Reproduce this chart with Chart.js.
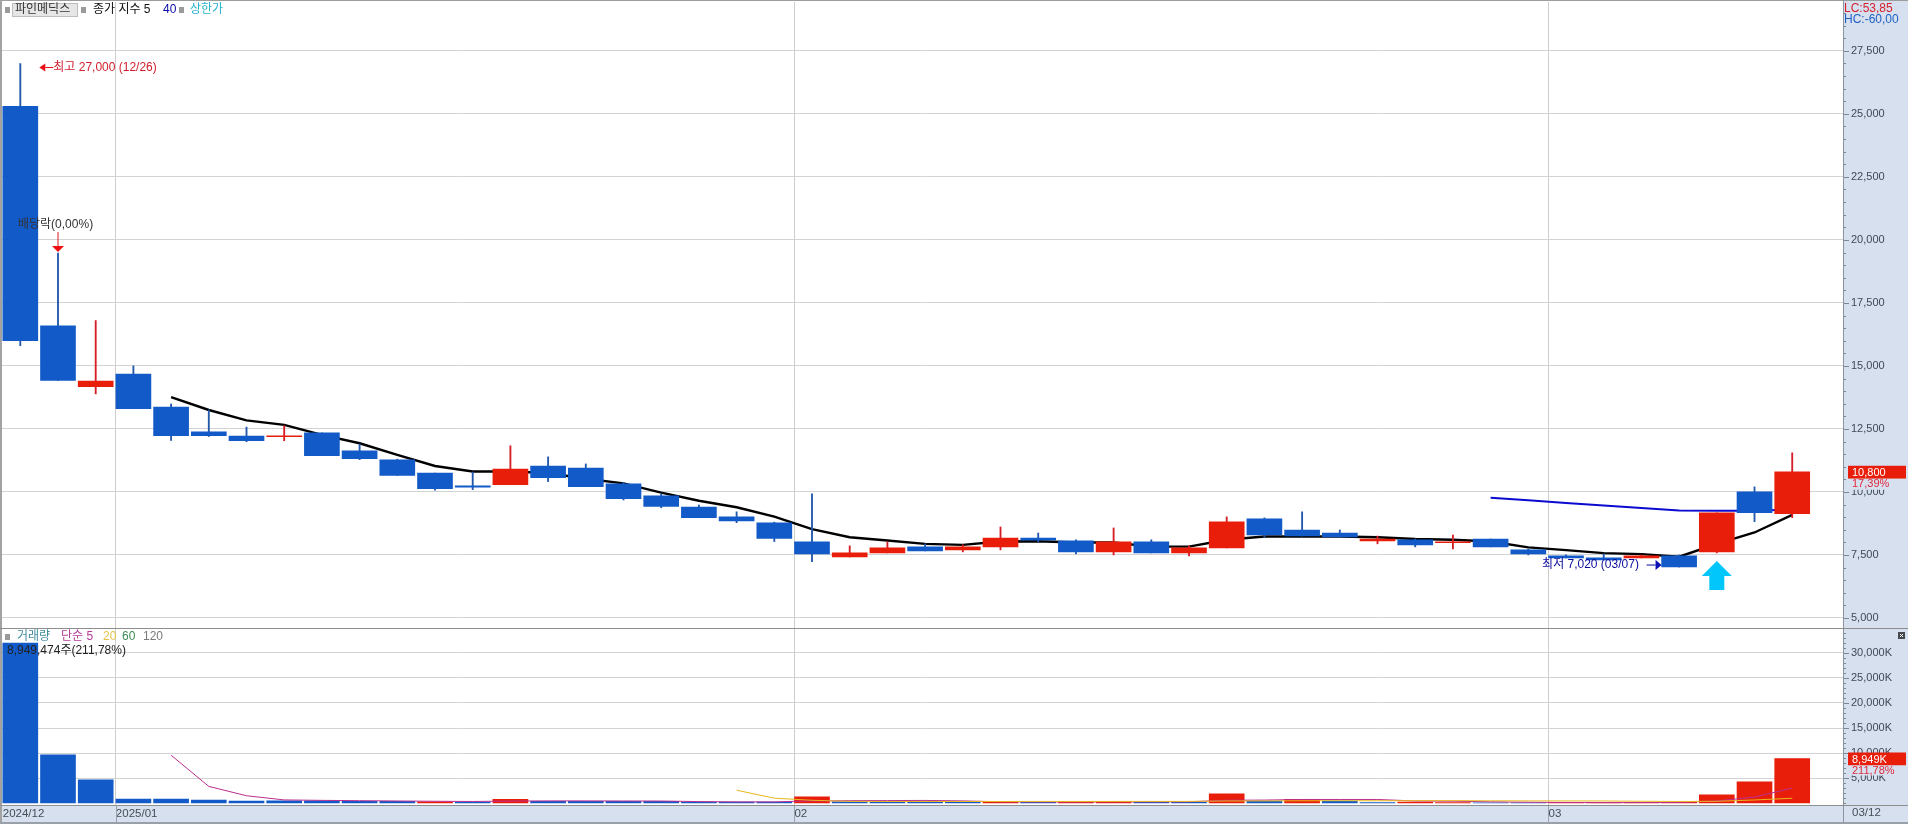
<!DOCTYPE html>
<html lang="ko">
<head>
<meta charset="utf-8">
<title>파인메딕스</title>
<style>html,body{margin:0;padding:0;background:#fff;overflow:hidden}canvas{display:block}</style>
<script src="https://cdn.jsdelivr.net/npm/chart.js@4/dist/chart.umd.min.js"></script>
</head>
<body>
<canvas id="c" width="1908" height="824"></canvas>
<script>
const opens  = [25300,16590,14180,14680,13370,12380,12220,12190,12340,11630,11270,10750,10240,10290,11030,10950,10320,9840,9400,9010,8770,8020,7420,7580,7820,7700,7820,8170,8060,7620,8020,7580,7780,8930,8490,8370,8060,8100,7990,8130,7700,7460,7380,7380,7460,7620,10000,9140];
const highs  = [27000,19480,16800,15000,13490,13250,12570,12630,12340,11900,11300,10750,10790,11830,11390,11110,10380,9920,9480,9210,8800,9920,7860,8020,7940,7900,8610,8370,8100,8570,8100,7860,9010,8970,9210,8490,8250,8130,8290,8130,7740,7500,7540,7500,7500,9170,10200,11550];
const lows   = [15800,14420,13890,13300,12040,12200,11990,12030,11440,11280,10650,10070,10090,10290,10410,10210,9680,9370,8980,8780,8030,7230,7420,7580,7660,7620,7700,8020,7540,7500,7580,7460,7780,8210,8250,8210,7940,7820,7740,7820,7500,7380,7300,7380,7020,7580,8820,8980];
const closes = [16000,14420,14400,13300,12230,12230,12030,12230,11440,11320,10650,10130,10190,10910,10570,10210,9730,9420,8980,8850,8150,7540,7580,7780,7660,7820,8170,8090,7620,8020,7580,7780,8810,8290,8250,8210,8130,7900,8020,7820,7540,7380,7300,7460,7020,9170,9180,10800];
const ma5    = [null,null,null,null,13760,13250,12840,12660,12260,11930,11470,11030,10810,10810,10750,10520,10340,9970,9650,9390,9020,8520,8200,8070,7940,7900,8030,8040,7990,7990,7830,7830,8100,8230,8230,8230,8200,8130,8100,8030,7800,7690,7570,7530,7430,7940,8390,9090];
const ma40   = [null,null,null,null,null,null,null,null,null,null,null,null,null,null,null,null,null,null,null,null,null,null,null,null,null,null,null,null,null,null,null,null,null,null,null,null,null,null,null,9770,9670,9560,9460,9360,9260,9250,9250,9300];
const volumes= [31900,9700,4700,900,900,700,500,550,550,450,450,350,300,840,450,450,450,450,300,300,300,1300,350,350,350,250,300,250,300,450,300,250,1900,500,850,500,200,300,200,150,150,200,200,200,250,1700,4300,8949];
const volUp  = [0,0,0,0,0,0,0,0,0,0,0,1,0,1,0,0,0,0,0,0,0,1,0,0,0,0,1,0,1,1,0,0,1,0,1,0,0,1,1,0,0,1,1,1,1,1,1,1];
const volMa5 = [null,null,null,null,9600,3400,1540,710,620,560,500,440,400,480,520,520,500,490,380,320,320,520,560,580,610,520,340,300,300,330,330,340,640,680,800,800,800,500,450,340,250,200,180,190,210,500,1280,3070];
const volMa20= [null,null,null,null,null,null,null,null,null,null,null,null,null,null,null,null,null,null,null,2640,1050,640,420,400,400,400,400,410,410,410,420,420,500,510,540,550,540,560,570,530,520,510,500,440,400,440,700,1040];
const monthStarts = [0,3,21,41];
const monthLabels = ['2024/12','2025/01','02','03'];
const lastDateLabel = '03/12';
const priceLegend = ['파인메딕스','종가 지수 5','40','상한가'];
const volumeLegend = ['거래량','단순 5','20','60','120'];
const annotationTexts = {high:'최고 27,000 (12/26)',low:'최저 7,020 (03/07)',ex:'배당락(0,00%)',vol:'8,949,474주(211,78%)',lc:'LC:53,85',hc:'HC:-60,00',lastP:'10,800',lastPct:'17,39%',lastV:'8,949K',lastVPct:'211,78%'};

const RED='#e81e0b',BLUE='#115ac8',RWICK='#d41f26',BWICK='#2258ac',BAND='#d6e0ee',FONT='"Liberation Sans","Noto Sans CJK KR",sans-serif';
const idx=opens.map((_,i)=>i);
const pts=a=>a.map((y,i)=>({x:i,y}));
const up=idx.map(i=>closes[i]>=opens[i]);
const halfSlot=0.465;

const chrome={
 id:'chrome',
 beforeDraw(ch){
  const c=ch.ctx,a=ch.chartArea;
  c.save();
  c.fillStyle='#fff';c.fillRect(0,0,ch.width,ch.height);
  c.fillStyle=BAND;
  c.fillRect(a.right,0,ch.width-a.right,ch.height);
  c.fillRect(0,a.bottom,ch.width,ch.height-a.bottom);
  c.restore();
 },
 afterDraw(ch){
  const c=ch.ctx,a=ch.chartArea,W=ch.width,H=ch.height;
  const x=ch.scales.x,y=ch.scales.y,v=ch.scales.yVol;
  const T=(s,px,py,col,size=12,al='left')=>{c.font=size+'px '+FONT;c.fillStyle=col;c.textAlign=al;c.textBaseline='middle';c.fillText(s,px,py);};
  const R=(px,py,w,h,col)=>{c.fillStyle=col;c.fillRect(px,py,w,h);};
  const P=(arr,col)=>{c.fillStyle=col;c.beginPath();arr.forEach((p,i)=>i?c.lineTo(p[0],p[1]):c.moveTo(p[0],p[1]));c.closePath();c.fill();};
  c.save();
  // axis minor / major tick marks
  [[y,2500],[v,5000]].forEach(([s,maj])=>{
    s.ticks.forEach(t=>{
      const py=Math.round(s.getPixelForValue(t.value))+0.5;
      c.strokeStyle='#7d8897';c.lineWidth=1;c.beginPath();c.moveTo(a.right,py);c.lineTo(a.right+(t.value%maj===0&&t.value>0?6:3),py);c.stroke();
    });
  });
  // month separators through the date band
  monthStarts.slice(1).forEach(m=>{const px=Math.round(x.getPixelForValue(m-halfSlot))+0.5;c.strokeStyle='#9aa3ad';c.lineWidth=1;c.beginPath();c.moveTo(px,a.bottom);c.lineTo(px,H);c.stroke();});
  // frames
  R(0,0,W,1,'#9c9c9c');R(0,0,2,H,'#a2a2a2');
  R(a.right,0,1,H,'#8d939b');
  R(0,Math.round(y.bottom),W,1,'#8e8e8e');
  R(0,Math.round(a.bottom),W,1,'#8e8e8e');
  R(0,H-2,W,2,'#9aa0a8');
  // price legend
  R(5,7,5,6,'#9a9a9a');
  R(12,3,66,14,'#e6e6e6');c.strokeStyle='#bdbdbd';c.lineWidth=1;c.strokeRect(12.5,3.5,65,13);
  T(priceLegend[0],15,10,'#333');
  R(81,7,5,6,'#9a9a9a');
  T(priceLegend[1],93,10,'#111');
  T(priceLegend[2],163,10,'#0a0aa8');
  R(179,7,5,6,'#9a9a9a');
  T(priceLegend[3],190,10,'#27b4cf');
  // volume legend
  R(5,634,5,6,'#9a9a9a');
  T(volumeLegend[0],17,637,'#3f8d9d');
  T(volumeLegend[1],61,637,'#b53a97');
  T(volumeLegend[2],103,637,'#e6c24a');
  T(volumeLegend[3],122,637,'#3d8c55');
  T(volumeLegend[4],143,637,'#7a7a7a');
  T(annotationTexts.vol,7,651,'#222');
  // high marker
  const hx=x.getPixelForValue(0),hy=y.getPixelForValue(27000)+4;
  P([[hx+19,hy],[hx+25,hy-4],[hx+25,hy+4]],'#e81018');R(hx+25,hy-0.5,8,1,'#e81018');
  T(annotationTexts.high,hx+33,hy,'#d2202e');
  // ex-dividend marker
  const ex=x.getPixelForValue(1);const ey=y.getPixelForValue(highs[1])-1;
  T(annotationTexts.ex,18,ey-27,'#333');
  R(ex-0.5,ey-20,1,15,'#d61820');
  P([[ex-6,ey-6],[ex+6,ey-6],[ex,ey]],'#ee0f14');
  // low marker
  const lx=x.getPixelForValue(44)-halfSlot*37.7,ly=y.getPixelForValue(7020)-2;
  T(annotationTexts.low,lx-119.5,ly,'#0d0d9c');
  R(lx-15,ly-0.5,9,1,'#0d0d9c');
  P([[lx,ly],[lx-6,ly-5],[lx-6,ly+5]],'#0d0db4');
  // upper-limit arrow
  const ax=x.getPixelForValue(45),ay=y.getPixelForValue(lows[45])+8;
  P([[ax,ay],[ax+15,ay+15],[ax+7.5,ay+15],[ax+7.5,ay+29],[ax-7.5,ay+29],[ax-7.5,ay+15],[ax-15,ay+15]],'#00c6fb');
  // right-side readouts
  T(annotationTexts.lc,a.right+1,9,'#d6202c');
  T(annotationTexts.hc,a.right+1,20,'#1f5fc4');
  const py=y.getPixelForValue(closes[47]);
  R(a.right+5,py-6,58,13,RED);
  R(a.right+5,py+7,58,11,BAND);
  T(annotationTexts.lastP,a.right+9,py+1,'#fff',11);
  T(annotationTexts.lastPct,a.right+9,py+12,'#e0283c',11);
  const vy=v.getPixelForValue(volumes[47]);
  R(a.right+5,vy-6,58,13,RED);
  R(a.right+5,vy+7,58,10,BAND);
  T(annotationTexts.lastV,a.right+9,vy+1,'#fff',11);
  T(annotationTexts.lastVPct,a.right+9,vy+12,'#e0283c',11);
  T(lastDateLabel,a.right+9,813,'#444d58',11.5);
  // close box
  R(1898,632,7,7,'#45484c');
  c.strokeStyle='#fff';c.lineWidth=1;c.beginPath();c.moveTo(1900,634);c.lineTo(1903,637);c.moveTo(1903,634);c.lineTo(1900,637);c.stroke();
  c.restore();
 }
};

const yAxis=(min,max,weight,step,major,fmt)=>({
  position:'right',stack:'panes',stackWeight:weight,offset:false,min,max,
  border:{display:false},
  afterBuildTicks(s){const t=[];for(let v=Math.ceil(min/step)*step;v<=max;v+=step)t.push({value:v});s.ticks=t;},
  grid:{drawTicks:false,lineWidth:1,color:t=>(t.tick.value>0&&t.tick.value%major===0)?'#d3d3d3':'transparent'},
  ticks:{autoSkip:false,padding:8,color:'#3f4a58',font:{family:FONT,size:11},callback:v=>(v>0&&v%major===0)?fmt(v):''},
  afterFit(s){s.width=65;s.paddingTop=0;s.paddingBottom=0;}
});
const nf=n=>n.toLocaleString('en-US');

new Chart(document.getElementById('c'),{
 type:'bar',
 data:{datasets:[
  {type:'bar',yAxisID:'y',grouped:false,order:1,barThickness:35,data:idx.map(i=>({x:i,y:[opens[i],closes[i]]})),backgroundColor:up.map(u=>u?RED:BLUE),borderWidth:0},
  {type:'bar',yAxisID:'y',grouped:false,order:2,barThickness:1.2,data:idx.map(i=>({x:i,y:[lows[i],highs[i]]})),backgroundColor:up.map(u=>u?RWICK:BWICK),borderWidth:0},
  {type:'line',yAxisID:'y',order:3,data:pts(ma5),borderColor:'#000',borderWidth:2.4,pointRadius:0,tension:0,spanGaps:false},
  {type:'line',yAxisID:'y',order:4,data:pts(ma40),borderColor:'#0a0ad0',borderWidth:2,pointRadius:0,tension:0,spanGaps:false},
  {type:'line',yAxisID:'yVol',order:5,data:pts(volMa20),borderColor:'#e8b81e',borderWidth:1,pointRadius:0,tension:0},
  {type:'line',yAxisID:'yVol',order:6,data:pts(volMa5),borderColor:'#bb2f90',borderWidth:1,pointRadius:0,tension:0},
  {type:'bar',yAxisID:'yVol',grouped:false,order:7,barThickness:35,data:pts(volumes),backgroundColor:volUp.map(u=>u?RED:BLUE),borderWidth:0}
 ]},
 options:{
  responsive:false,animation:false,
  layout:{padding:{left:2,top:2,right:0,bottom:0}},
  plugins:{legend:{display:false},tooltip:{enabled:false},title:{display:false}},
  scales:{
   x:{type:'linear',offset:false,min:-0.4854,max:48.347,
      afterBuildTicks(s){s.ticks=monthStarts.map(m=>({value:m-halfSlot}));},
      border:{display:false},
      grid:{offset:false,drawTicks:false,color:t=>t.index===0?'transparent':'#cdcdcd'},
      ticks:{autoSkip:false,maxRotation:0,minRotation:0,align:'start',padding:2,color:'#444d58',font:{family:FONT,size:11.5},
        callback:(v,i)=>monthLabels[i]},
      afterFit(s){s.height=19;s.paddingLeft=0;s.paddingRight=0;}},
   y:yAxis(4600,29440,626,500,2500,nf),
   yVol:yAxis(-300,34900,177,1000,5000,v=>nf(v)+'K')
  }
 },
 plugins:[chrome]
});
</script>
</body>
</html>
